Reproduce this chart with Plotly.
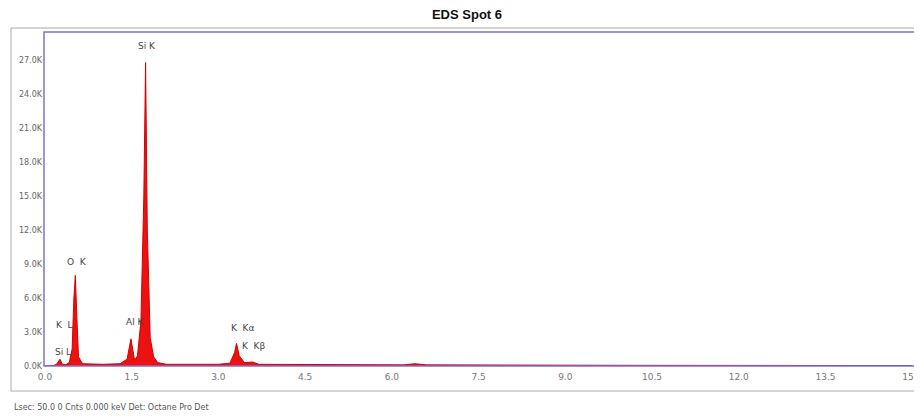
import plotly.graph_objects as go

# --- data ---
energy_kev = [0.0, 0.15, 0.2, 0.26, 0.3, 0.36, 0.42, 0.47, 0.5, 0.525, 0.55, 0.58, 0.65,
              1.0, 1.3, 1.42, 1.487, 1.55, 1.6, 1.66, 1.71, 1.74, 1.77, 1.82, 1.88, 1.95, 2.1,
              3.0, 3.2, 3.28, 3.313, 3.36, 3.45, 3.59, 3.7, 4.5, 6.2, 6.4, 6.6, 10.0, 15.0]
counts = [0, 50, 150, 600, 150, 120, 300, 1500, 6000, 8000, 4500, 800, 200,
          150, 200, 600, 2400, 500, 900, 4000, 15000, 26800, 12000, 2500, 800, 300, 150,
          150, 250, 1200, 2000, 900, 300, 350, 150, 120, 100, 200, 100, 60, 40]

peak_labels = ["Si K", "O  K", "K  L", "Si L", "Al K", "K  K\u03b1", "K  K\u03b2"]
peak_label_x = [1.76, 0.56, 0.33, 0.32, 1.57, 3.42, 3.62]
peak_label_y = [28300, 9200, 3600, 1200, 3900, 3400, 1800]

x_tick_vals = [0.0, 1.5, 3.0, 4.5, 6.0, 7.5, 9.0, 10.5, 12.0, 13.5, 15.0]
x_tick_text = ["0.0", "1.5", "3.0", "4.5", "6.0", "7.5", "9.0", "10.5", "12.0", "13.5", "15.0"]
y_tick_vals = [0, 3000, 6000, 9000, 12000, 15000, 18000, 21000, 24000, 27000]
y_tick_text = ["0.0K", "3.0K", "6.0K", "9.0K", "12.0K", "15.0K", "18.0K", "21.0K", "24.0K", "27.0K"]

title_text = "EDS Spot 6"
footer_text = "Lsec: 50.0 0 Cnts 0.000 keV Det: Octane Pro Det"

# page body has an 8px margin, so the figure is drawn 8px in from the window corner
OFF = 8
W, H = 922 - OFF, 419 - OFF
ML, MT, MR = 44 - OFF, 32 - OFF, 0
MB = H - (366 - OFF)

fig = go.Figure()
fig.add_trace(go.Scatter(
    x=energy_kev, y=counts, mode="lines",
    line=dict(color="#d40000", width=1),
    fill="tozeroy", fillcolor="#ee1111",
    hoverinfo="skip", showlegend=False,
))

for t, xx, yy in zip(peak_labels, peak_label_x, peak_label_y):
    fig.add_annotation(x=xx, y=yy, text=t, showarrow=False,
                       font=dict(family="DejaVu Sans", size=9, color="#444444"))

pw = W - ML - MR
ph = H - MT - MB
def px_x(p):  # screen px -> paper
    return (p - OFF - ML) / pw
def px_y(p):
    return (H - MB - (p - OFF)) / ph

# outer gray frame
fig.add_shape(type="rect", xref="paper", yref="paper",
              x0=px_x(11), x1=px_x(930), y0=px_y(391), y1=px_y(28),
              line=dict(color="#a8a8a8", width=1), layer="below")
# plot-area border (lavender)
fig.add_shape(type="rect", xref="paper", yref="paper",
              x0=0, x1=px_x(930), y0=0, y1=1,
              line=dict(color="#7a72d8", width=1.5), layer="above")

fig.add_annotation(xref="paper", yref="paper", x=px_x(12), y=px_y(407),
                   text=footer_text, showarrow=False, xanchor="left", yanchor="middle",
                   font=dict(family="DejaVu Sans", size=8, color="#555555"))

fig.update_layout(
    width=W, height=H,
    margin=dict(l=ML, r=MR, t=MT, b=MB, pad=0),
    paper_bgcolor="white", plot_bgcolor="white",
    title=dict(text="<b>" + title_text + "</b>", x=(467 - OFF) / W, y=1 - (14 - OFF) / H,
               xanchor="center", yanchor="middle", xref="container", yref="container",
               font=dict(family="Liberation Sans, Arial", size=13, color="#111111")),
    xaxis=dict(range=[-0.017, 15.17], tickvals=x_tick_vals, ticktext=x_tick_text,
               showgrid=False, zeroline=False, showline=False, ticks="", automargin=False,
               ticklabelstandoff=4, ticklabeloverflow="allow",
               tickfont=dict(family="DejaVu Sans", size=9, color="#777777")),
    yaxis=dict(range=[0, 29500], tickvals=y_tick_vals, ticktext=y_tick_text,
               showgrid=False, zeroline=False, showline=False, ticks="", automargin=False,
               ticklabelstandoff=1,
               tickfont=dict(family="DejaVu Sans", size=8, color="#666666")),
)

fig.write_html("out.html")
